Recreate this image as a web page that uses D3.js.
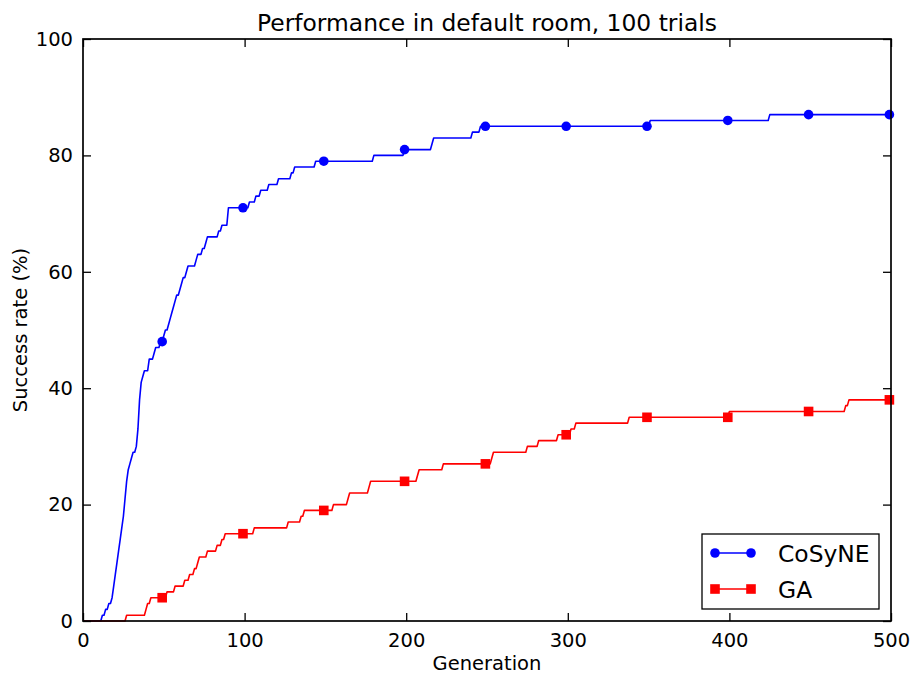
<!DOCTYPE html>
<html>
<head>
<meta charset="utf-8">
<script src="https://cdn.jsdelivr.net/npm/d3@7"></script>
<style>
  body { margin: 0; background: #fff; }
  text { font-family: "DejaVu Sans", sans-serif; fill: #000; }
</style>
</head>
<body>
<div id="chart"></div>
<script>
// step series: [generation, success rate from that generation on]
var cosyneSteps = [[0,0],[12,1],[14,2],[16,3],[18,4],[19,6],[20,8],[21,10],[22,12],[23,14],[24,16],[25,18],
  [26,21],[27,24],[28,26],[29,27],[30,28],[31,29],[33,30],[34,33],[35,38],[36,41],[37,42],[38,43],[41,45],
  [44,46],[45,47],[48,48],[50,49],[51,50],[53,51],[54,52],[55,53],[56,54],[57,55],[58,56],[60,57],[61,58],
  [62,59],[64,60],[65,61],[70,62],[71,63],[74,64],[76,65],[77,66],[84,67],[86,68],[90,71],[103,72],[107,73],
  [110,74],[115,75],[121,76],[129,77],[131,78],[144,79],[180,80],[199,81],[216,82],[217,83],[241,84],
  [246,85],[351,86],[425,87]];
var gaSteps = [[0,0],[27,1],[39,2],[40,3],[42,4],[52,5],[57,6],[63,7],[66,8],[69,9],[71,10],[72,11],[77,12],
  [83,13],[86,14],[88,15],[106,16],[127,17],[135,18],[137,19],[155,20],[164,21],[165,22],[177,23],[178,24],
  [207,25],[208,26],[223,27],[253,28],[254,29],[275,30],[282,31],[294,32],[302,33],[305,34],[338,35],
  [400,36],[472,37],[474,38]];
var nGenerations = 500;
var markerGens = [49, 99, 149, 199, 249, 299, 349, 399, 449, 499];
var xTicks = [0, 100, 200, 300, 400, 500];
var yTicks = [0, 20, 40, 60, 80, 100];

// hold each value until the next step
function expand(steps) {
    var out = [], j = 0;
    for (var g = 0; g < nGenerations; g++) {
        while (j + 1 < steps.length && steps[j + 1][0] <= g) j++;
        out.push([g, steps[j][1]]);
    }
    return out;
}
var cosyne = expand(cosyneSteps);
var ga = expand(gaSteps);

var W = 912, H = 674;
var m = {left: 83, right: 21, top: 39, bottom: 53};
var iw = W - m.left - m.right, ih = H - m.top - m.bottom;

var svg = d3.select("#chart").append("svg").attr("width", W).attr("height", H);
var g = svg.append("g").attr("transform", "translate(" + m.left + "," + m.top + ")");

var x = d3.scaleLinear().domain([0, 500]).range([0, iw]);
var y = d3.scaleLinear().domain([0, 100]).range([ih, 0]);

g.append("defs").append("clipPath").attr("id", "clip")
  .append("rect").attr("x", -6).attr("y", -6).attr("width", iw + 12).attr("height", ih + 12);

var line = d3.line().x(function (d) { return x(d[0]); }).y(function (d) { return y(d[1]); });

var series = [
    {name: "CoSyNE", data: cosyne, color: "#0000ff", marker: "circle"},
    {name: "GA", data: ga, color: "#ff0000", marker: "square"}
];

function drawMarker(sel, s, cx, cy) {
    if (s.marker === "circle") {
        sel.append("circle").attr("cx", cx).attr("cy", cy).attr("r", 4.8).attr("fill", s.color);
    } else {
        sel.append("rect").attr("x", cx - 4.8).attr("y", cy - 4.8).attr("width", 9.6).attr("height", 9.6)
          .attr("fill", s.color);
    }
}

var plot = g.append("g").attr("clip-path", "url(#clip)");
series.forEach(function (s) {
    plot.append("path").datum(s.data).attr("d", line)
      .attr("fill", "none").attr("stroke", s.color).attr("stroke-width", 1.6).attr("stroke-linejoin", "round");
    var mg = plot.append("g");
    markerGens.forEach(function (k) {
        drawMarker(mg, s, x(s.data[k][0]), y(s.data[k][1]));
    });
});

// frame (drawn over the lines, like the spines)
g.append("rect").attr("width", iw).attr("height", ih).attr("fill", "none")
  .attr("stroke", "#000").attr("stroke-width", 1.7);

// inward ticks on all four sides
var tl = 8;
var axB = d3.axisBottom(x).tickValues(xTicks).tickSize(-tl).tickPadding(12).tickFormat(d3.format("d"));
var axT = d3.axisTop(x).tickValues(xTicks).tickSize(-tl).tickFormat("");
var axL = d3.axisLeft(y).tickValues(yTicks).tickSize(-tl).tickPadding(10).tickFormat(d3.format("d"));
var axR = d3.axisRight(y).tickValues(yTicks).tickSize(-tl).tickFormat("");

[[axB, "translate(0," + ih + ")"], [axT, null], [axL, null], [axR, "translate(" + iw + ",0)"]].forEach(function (a) {
    var ag = g.append("g").call(a[0]);
    if (a[1]) ag.attr("transform", a[1]);
    ag.select(".domain").remove();
    ag.selectAll("line").attr("stroke", "#000").attr("stroke-width", 1.3);
    ag.selectAll("text").style("font-family", "DejaVu Sans").style("font-size", "19.5px").attr("fill", "#000");
});

// title and axis labels
svg.append("text").attr("x", m.left + iw / 2).attr("y", 31).attr("text-anchor", "middle")
  .style("font-size", "23.4px").text("Performance in default room, 100 trials");
svg.append("text").attr("x", m.left + iw / 2).attr("y", 670).attr("text-anchor", "middle")
  .style("font-size", "19.5px").text("Generation");
svg.append("text").attr("transform", "translate(27," + (m.top + ih / 2) + ") rotate(-90)")
  .attr("text-anchor", "middle").style("font-size", "19.5px").text("Success rate (%)");

// legend
var lg = svg.append("g").attr("transform", "translate(702,534)");
lg.append("rect").attr("width", 177).attr("height", 75).attr("fill", "#fff")
  .attr("stroke", "#000").attr("stroke-width", 1.3);
series.forEach(function (s, i) {
    var ly = 19 + i * 36;
    lg.append("line").attr("x1", 13).attr("x2", 49).attr("y1", ly).attr("y2", ly)
      .attr("stroke", s.color).attr("stroke-width", 1.6);
    drawMarker(lg, s, 13, ly);
    drawMarker(lg, s, 49, ly);
    lg.append("text").attr("x", 76).attr("y", ly + 8.5).style("font-size", "23.4px").text(s.name);
});
</script>
</body>
</html>
